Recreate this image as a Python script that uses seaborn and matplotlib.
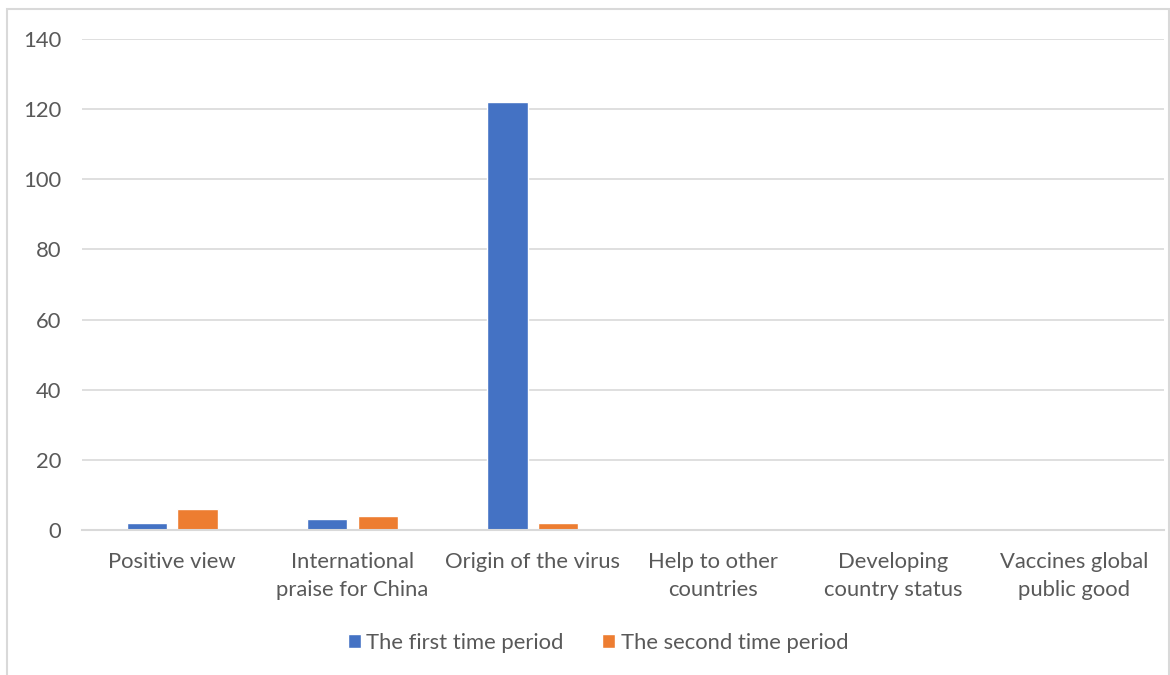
import matplotlib
matplotlib.use("Agg")
import matplotlib.pyplot as plt
import seaborn as sns
import pandas as pd
from matplotlib.patches import Rectangle

categories = [
    "Positive view",
    "International\npraise for China",
    "Origin of the virus",
    "Help to other\ncountries",
    "Developing\ncountry status",
    "Vaccines global\npublic good",
]
first_period = [2, 3, 122, 0, 0, 0]
second_period = [6, 4, 2, 0, 0, 0]
series_names = ["The first time period", "The second time period"]
y_ticks = [0, 20, 40, 60, 80, 100, 120, 140]

df = pd.DataFrame({
    "category": categories * 2,
    "value": first_period + second_period,
    "series": [series_names[0]] * len(categories) + [series_names[1]] * len(categories),
})

sns.set_theme(style="white")
plt.rcParams["font.family"] = ["Lato", "DejaVu Sans"]
text_color = "#595959"
grid_color = "#d9d9d9"
font_size = 15.8

fig = plt.figure(figsize=(11.7, 6.75), dpi=100)
ax = fig.add_axes([82 / 1170, 1 - 530 / 675, (1164 - 82) / 1170, (530 - 39) / 675])

sns.barplot(
    data=df, x="category", y="value", hue="series",
    palette=["#4472C4", "#ED7D31"], width=0.56, gap=0.2,
    order=categories, hue_order=series_names, ax=ax, saturation=1,
    legend=True,
)

ax.set_ylim(0, 140)
ax.set_yticks(y_ticks)
ax.set_xlim(-0.5, len(categories) - 0.5)
ax.set_xlabel("")
ax.set_ylabel("")
ax.yaxis.grid(True, color=grid_color, linewidth=1.2)
ax.set_axisbelow(True)
for side in ["top", "right", "left"]:
    ax.spines[side].set_visible(False)
ax.spines["bottom"].set_color(grid_color)
ax.spines["bottom"].set_linewidth(1.5)
ax.tick_params(axis="both", length=0, labelsize=font_size, colors=text_color)
ax.tick_params(axis="y", pad=15)
ax.tick_params(axis="x", pad=15.5)
for lbl in ax.get_yticklabels():
    lbl.set_horizontalalignment("right")
for lbl in ax.get_xticklabels():
    lbl.set_linespacing(1.5)

leg = ax.legend(
    loc="center", ncol=2, frameon=False, fontsize=font_size,
    handlelength=0.6, handleheight=0.6, handletextpad=0.25, columnspacing=1.75,
)
leg.set_bbox_to_anchor((598 / 1170, (675 - 643) / 675), transform=fig.transFigure)
for t in leg.get_texts():
    t.set_color(text_color)

fig.patches.append(Rectangle((7 / 1170, -0.05), (1169 - 7) / 1170, 1.05 - 9 / 675,
                             transform=fig.transFigure, fill=False,
                             edgecolor=grid_color, linewidth=1.5))

fig.savefig("out.png", dpi=100, facecolor="white")
